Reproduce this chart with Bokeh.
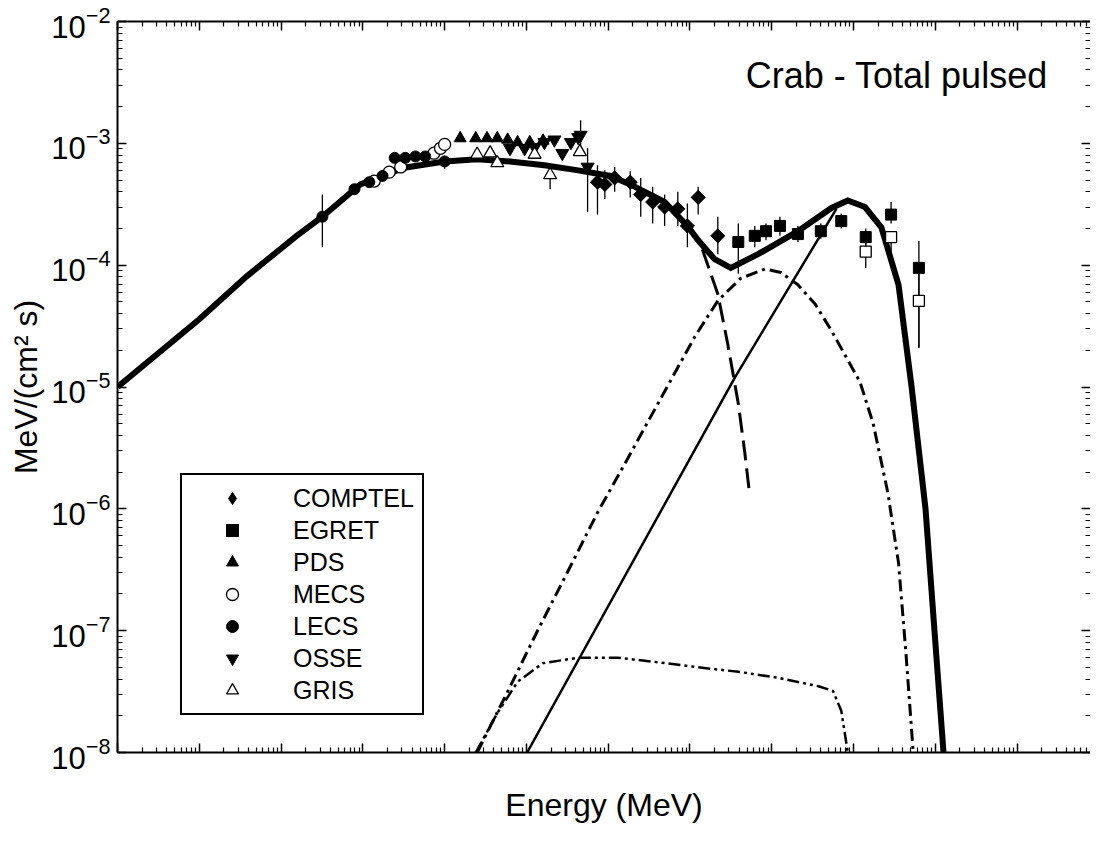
import math
from bokeh.plotting import figure
from bokeh.models import (LogAxis, Legend, LegendItem, Label, FixedTicker,
                          CustomJSTickFormatter, Range1d)
from bokeh.embed import file_html
from bokeh.resources import INLINE

FONT = "Liberation Sans"

# ---------------- model curves (Energy MeV, nuFnu MeV/(cm2 s)) -------------
total_E = [1e-6, 1e-5, 3.8e-5, 1.55e-4, 3.2e-4, 9.3e-4, 3.2e-3, 1.0e-2, 2.5e-2,
           6.3e-2, 0.166, 0.43, 1.07, 1.86, 4.9, 9.3, 12.6, 20, 31.6, 68, 209,
           537, 851, 1380, 2190, 3550, 5130, 7590, 9770, 1.26e4]
total_F = [1.0e-5, 3.6e-5, 8.1e-5, 1.74e-4, 2.5e-4, 4.6e-4, 6.3e-4, 7.1e-4, 7.4e-4,
           7.1e-4, 6.6e-4, 6.0e-4, 5.4e-4, 4.6e-4, 3.3e-4, 2.1e-4, 1.6e-4, 1.12e-4,
           9.5e-5, 1.23e-4, 1.9e-4, 2.95e-4, 3.4e-4, 3.0e-4, 2.04e-4, 6.9e-5,
           1e-5, 1e-6, 1e-7, 1e-8]

synch_E = [9.3, 13.5, 21.9, 28.8, 38.9, 46.8, 53.7]
synch_F = [2.1e-4, 1.48e-4, 5.8e-5, 2.3e-5, 7.4e-6, 2.9e-6, 1.3e-6]

dashdot_E = [0.025, 0.059, 0.135, 0.316, 0.74, 1.74, 4.1, 11.5, 21.9, 41.7, 83,
             129, 209, 339, 537, 1200, 1740, 2630, 3550, 4370, 5370]
dashdot_F = [1e-8, 3.16e-8, 9.8e-8, 3.0e-7, 9.3e-7, 2.6e-6, 7.4e-6, 2.6e-5, 5.1e-5,
             7.8e-5, 9.3e-5, 8.7e-5, 6.9e-5, 4.8e-5, 2.9e-5, 1.1e-5, 5e-6, 1.35e-6,
             3.6e-7, 6.6e-8, 1e-8]

thin_E = [0.102, 35.5, 617]
thin_F = [1e-8, 1.2e-5, 2.9e-4]

dd_E = [0.024, 0.044, 0.078, 0.158, 0.43, 1.3, 4.1, 12.6, 39, 120, 372, 562, 708, 851]
dd_F = [1e-8, 2.1e-8, 3.8e-8, 5.4e-8, 6.0e-8, 6.0e-8, 5.5e-8, 5.0e-8, 4.6e-8,
        4.1e-8, 3.5e-8, 3.2e-8, 2.2e-8, 1e-8]

# ---------------- data points -----------------------------------------------
comptel_E = [0.74, 0.91, 1.2, 1.86, 2.5, 3.5, 4.9, 7.1, 9.3, 12.6, 21.9]
comptel_F = [4.8e-4, 4.6e-4, 5.2e-4, 4.8e-4, 3.8e-4, 3.3e-4, 3.0e-4, 2.9e-4, 2.1e-4, 3.6e-4, 1.74e-4]
comptel_lo = [2.6e-4, 3.5e-4, 4.0e-4, 3.6e-4, 2.5e-4, 2.2e-4, 2.1e-4, 2.1e-4, 1.4e-4, 2.6e-4, 1.23e-4]
comptel_hi = [6.6e-4, 6.0e-4, 6.4e-4, 5.9e-4, 5.2e-4, 4.4e-4, 3.8e-4, 4.0e-4, 3.2e-4, 4.4e-4, 2.5e-4]

egret_E = [39, 62, 85, 126, 209, 398, 708, 1410, 2880, 6300]
egret_F = [1.55e-4, 1.74e-4, 1.9e-4, 2.1e-4, 1.8e-4, 1.9e-4, 2.3e-4, 1.7e-4, 2.6e-4, 9.5e-5]
egret_lo = [8.5e-5, 1.4e-4, 1.6e-4, 1.74e-4, 1.55e-4, 1.65e-4, 2.0e-4, 1.45e-4, 2.2e-4, 2.1e-5]
egret_hi = [2.2e-4, 2.1e-4, 2.2e-4, 2.5e-4, 2.1e-4, 2.2e-4, 2.65e-4, 2.0e-4, 3.3e-4, 1.58e-4]

egret2_E = [1410, 2880, 6300]
egret2_F = [1.29e-4, 1.7e-4, 5.1e-5]
egret2_lo = [9.5e-5, 1.0e-4, 2.1e-5]
egret2_hi = [1.9e-4, 1.9e-4, 9.5e-5]

pds_E = [0.0155, 0.024, 0.033, 0.044, 0.059, 0.078, 0.11, 0.16]
pds_F = [1.1e-3, 1.1e-3, 1.1e-3, 1.1e-3, 1.07e-3, 1.02e-3, 1.02e-3, 1.05e-3]

mecs_E = [1.38e-3, 2.1e-3, 2.9e-3, 7.4e-3, 8.9e-3, 1.0e-2]
mecs_F = [4.9e-4, 5.8e-4, 6.4e-4, 8.3e-4, 9.1e-4, 9.8e-4]

lecs_E = [3.2e-4, 7.9e-4, 1.2e-3, 1.74e-3, 2.45e-3, 3.3e-3, 4.4e-3, 5.8e-3, 1.0e-2]
lecs_F = [2.5e-4, 4.2e-4, 4.8e-4, 5.4e-4, 7.6e-4, 7.6e-4, 7.8e-4, 7.8e-4, 7.1e-4]
lecs_err_E = [3.2e-4, 1.0e-2]
lecs_lo = [1.4e-4, 6.2e-4]
lecs_hi = [3.8e-4, 7.9e-4]

osse_E = [0.063, 0.095, 0.126, 0.166, 0.22, 0.275, 0.35, 0.43, 0.46, 0.56]
osse_F = [9.1e-4, 9.1e-4, 9.3e-4, 1.02e-3, 1.07e-3, 8.3e-4, 1.02e-3, 1.12e-3, 1.17e-3, 6.4e-4]
osse_err_E = [0.46, 0.56]
osse_lo = [8.9e-4, 2.75e-4]
osse_hi = [1.55e-3, 9.1e-4]

gris_E = [0.025, 0.036, 0.044, 0.126, 0.195, 0.45]
gris_F = [8.1e-4, 8.3e-4, 6.9e-4, 8.1e-4, 5.5e-4, 8.5e-4]
gris_err_E = [0.195]
gris_lo = [4.2e-4]
gris_hi = [6.6e-4]

x_major = [10.0 ** k for k in range(-6, 7)]
x_minor = [m * 10.0 ** k for k in range(-6, 6) for m in range(2, 10)]
y_major = [10.0 ** k for k in range(-8, -1)]
y_minor = [m * 10.0 ** k for k in range(-8, -2) for m in range(2, 10)]

p = figure(width=1090, height=840, x_axis_type="log", y_axis_type="log",
           x_range=Range1d(1e-6, 7.9e5), y_range=Range1d(1e-8, 1e-2),
           output_backend="svg", toolbar_location=None,
           min_border_left=117, min_border_right=0, min_border_top=21,
           min_border_bottom=88)
p.grid.visible = False
p.outline_line_color = None
p.background_fill_color = "white"
p.border_fill_color = "white"

blank = CustomJSTickFormatter(code="return ''")


def style_axis(ax):
    ax.axis_line_color = "black"
    ax.axis_line_width = 2
    ax.major_tick_in = 9
    ax.major_tick_out = 0
    ax.minor_tick_in = 5
    ax.minor_tick_out = 0
    ax.major_tick_line_color = "black"
    ax.minor_tick_line_color = "black"
    ax.major_tick_line_width = 1.5
    ax.minor_tick_line_width = 1.2
    ax.major_label_text_color = "black"
    ax.major_label_text_font = FONT
    ax.axis_label_text_font = FONT
    ax.axis_label_text_font_style = "normal"
    ax.axis_label_text_color = "black"


xb = p.xaxis[0]
style_axis(xb)
xb.ticker = FixedTicker(ticks=x_major, minor_ticks=x_minor)
xb.formatter = blank
xb.major_label_standoff = 0
xb.axis_label = "Energy (MeV)"
xb.axis_label_text_font_size = "32px"
xb.axis_label_standoff = 34

yl = p.yaxis[0]
style_axis(yl)
yl.ticker = FixedTicker(ticks=y_major, minor_ticks=y_minor)
yl.major_label_text_font_size = "31px"
yl.major_label_standoff = 7
yl.axis_label = "MeV/(cm² s)"
yl.axis_label_text_font_size = "32px"
yl.axis_label_standoff = 4

xt = LogAxis(ticker=FixedTicker(ticks=x_major, minor_ticks=x_minor), formatter=blank)
style_axis(xt)
xt.major_label_standoff = 0
p.add_layout(xt, "above")

yr = LogAxis(ticker=FixedTicker(ticks=y_major, minor_ticks=y_minor), formatter=blank)
style_axis(yr)
yr.axis_line_color = None
yr.major_label_standoff = 0
p.add_layout(yr, "right")

# error bars
for E, lo, hi in [(comptel_E, comptel_lo, comptel_hi), (egret_E, egret_lo, egret_hi),
                  (egret2_E, egret2_lo, egret2_hi), (lecs_err_E, lecs_lo, lecs_hi),
                  (osse_err_E, osse_lo, osse_hi), (gris_err_E, gris_lo, gris_hi)]:
    p.segment(x0=E, y0=lo, x1=E, y1=hi, line_color="black", line_width=1.3)

# model curves
p.line(dd_E, dd_F, line_color="black", line_width=2.5, line_dash="12 4 3 4 3 4")
p.line(dashdot_E, dashdot_F, line_color="black", line_width=3, line_dash="12 5 3 5")
p.line(thin_E, thin_F, line_color="black", line_width=2.5)
p.line(synch_E, synch_F, line_color="black", line_width=3, line_dash="20 8")
p.line(total_E, total_F, line_color="black", line_width=6, line_join="miter")

# markers
p.scatter(comptel_E, comptel_F, marker="square", size=10, angle=math.pi / 4,
          fill_color="black", line_color="black")
# diamond drawn inside the rotated squares; also serves as the legend swatch
r_comptel = p.scatter(comptel_E, comptel_F, marker="diamond", size=13,
                      fill_color="black", line_color="black")
r_egret = p.scatter(egret_E, egret_F, marker="square", size=11,
                    fill_color="black", line_color="black")
p.scatter(egret2_E, egret2_F, marker="square", size=11,
          fill_color="white", line_color="black", line_width=1.3)
r_pds = p.scatter(pds_E, pds_F, marker="triangle", size=12,
                  fill_color="black", line_color="black")
r_mecs = p.scatter(mecs_E, mecs_F, marker="circle", size=12,
                   fill_color="white", line_color="black", line_width=1.3)
r_lecs = p.scatter(lecs_E, lecs_F, marker="circle", size=11,
                   fill_color="black", line_color="black")
r_osse = p.scatter(osse_E, osse_F, marker="inverted_triangle", size=13,
                   fill_color="black", line_color="black")
r_gris = p.scatter(gris_E, gris_F, marker="triangle", size=13,
                   fill_color="white", line_color="black", line_width=1.3)

legend = Legend(items=[
    LegendItem(label="COMPTEL", renderers=[r_comptel]),
    LegendItem(label="EGRET", renderers=[r_egret]),
    LegendItem(label="PDS", renderers=[r_pds]),
    LegendItem(label="MECS", renderers=[r_mecs]),
    LegendItem(label="LECS", renderers=[r_lecs]),
    LegendItem(label="OSSE", renderers=[r_osse]),
    LegendItem(label="GRIS", renderers=[r_gris]),
], location=(63, 37), label_text_font=FONT, label_text_font_size="25px",
    label_text_color="black", glyph_width=84, glyph_height=30, label_height=30,
    label_standoff=19, spacing=2, padding=8, margin=0,
    border_line_color="black", border_line_alpha=1.0, border_line_width=2,
    background_fill_alpha=1.0)
p.add_layout(legend)

p.add_layout(Label(x=48, y=3.6e-3, text="Crab - Total pulsed", text_font=FONT,
                   text_font_size="36px", text_color="black",
                   text_baseline="alphabetic"))

open("out.html", "w").write(file_html(p, INLINE))
